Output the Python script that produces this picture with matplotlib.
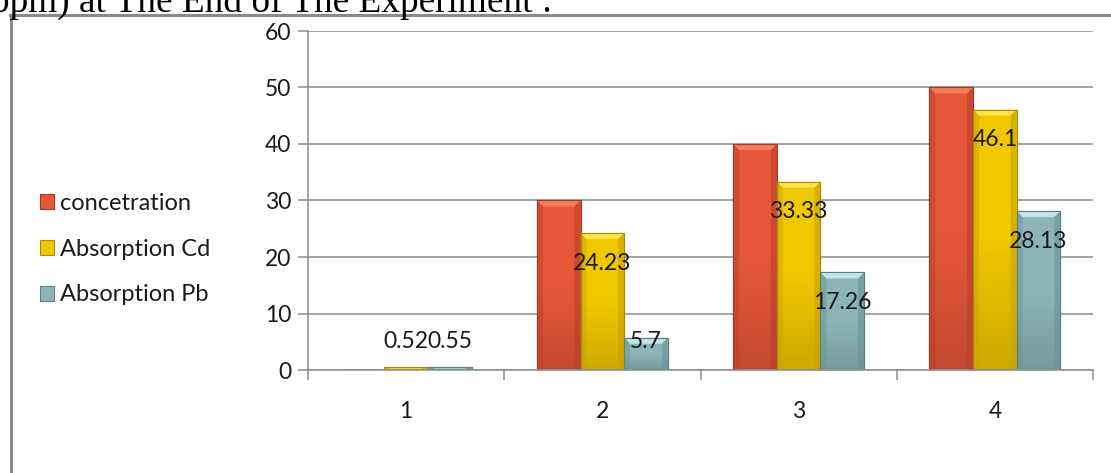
import numpy as np
import matplotlib
matplotlib.use("Agg")
import matplotlib.pyplot as plt
from matplotlib.colors import LinearSegmentedColormap, to_rgb
from matplotlib.patches import Polygon, Rectangle

plt.rcParams['font.family'] = ['Lato', 'DejaVu Sans']

categories = ["1", "2", "3", "4"]
series_names = ["concetration", "Absorption Cd", "Absorption Pb"]
concentration = [0, 30, 40, 50]
absorption_cd = [0.52, 24.23, 33.33, 46.1]
absorption_pb = [0.55, 5.7, 17.26, 28.13]
y_ticks = [0, 10, 20, 30, 40, 50, 60]

series_values = [concentration, absorption_cd, absorption_pb]
# face colour, light bevel, dark bevel, edge
palette = [
    ("#E6573A", "#F87C5E", "#B8402A", "#9E3A28"),
    ("#F0C800", "#FFE34A", "#C9A200", "#A88A10"),
    ("#8DB5B7", "#C2E6E8", "#6A9496", "#5E7E80"),
]
label_sets = [None, absorption_cd, absorption_pb]

FS = 16.5
LEG_FS = 17
W, H = 1111, 473
fig = plt.figure(figsize=(W / 100, H / 100), dpi=100)
ax = fig.add_axes([308 / W, (H - 370) / H, (1093 - 308) / W, (370 - 31) / H])

n = len(series_values)
bar_w = 1 / (n + 1.5)
x = np.arange(len(categories))

# grid and axes styling
ax.set_ylim(0, 60)
ax.set_xlim(-0.5, len(categories) - 0.5)
ax.set_yticks(y_ticks)
ax.yaxis.grid(True, color="#8c8c8c", linewidth=1.1)
ax.set_axisbelow(True)
for s in ["top", "right"]:
    ax.spines[s].set_visible(False)
for s in ["left", "bottom"]:
    ax.spines[s].set_color("#8c8c8c")
    ax.spines[s].set_linewidth(1.1)
ax.tick_params(axis="y", length=7, width=1.1, color="#8c8c8c", labelsize=FS,
               labelcolor="#1a1a1a", pad=5)
ax.set_xticks(np.arange(len(categories) + 1) - 0.5, minor=False)
ax.set_xticklabels([])
ax.set_xticks(x, minor=True)
ax.set_xticklabels(categories, minor=True)
ax.tick_params(axis="x", which="major", length=7, width=1.1, color="#8c8c8c")
ax.tick_params(axis="x", which="minor", length=0, labelsize=FS,
               labelcolor="#1a1a1a", pad=22)

px_x = (1093 - 308) / len(categories)  # pixels per category
px_y = (370 - 31) / 60                 # pixels per unit
bev_x = 6 / px_x
bev_y = 6 / px_y

legend_handles = []
for i, (vals, name) in enumerate(zip(series_values, series_names)):
    face, light, dark, edge = palette[i]
    offs = (i - (n - 1) / 2) * bar_w
    bars = ax.bar(x + offs, vals, width=bar_w, color=face, edgecolor=edge,
                  linewidth=0.8, label=name, zorder=2)
    cmap = LinearSegmentedColormap.from_list(
        "g%d" % i, [np.array(to_rgb(face)) * 0.85, to_rgb(face), to_rgb(face)])
    grad = np.linspace(0, 1, 64).reshape(-1, 1)
    for b in bars:
        h = b.get_height()
        if h <= 0:
            continue
        x0, x1 = b.get_x(), b.get_x() + b.get_width()
        im = ax.imshow(grad, extent=[x0, x1, 0, h], origin="lower",
                       cmap=cmap, aspect="auto", zorder=2.1)
        im.set_clip_path(b)
        by = min(bev_y, h / 2)
        bx = min(bev_x, b.get_width() / 2)
        top = Polygon([(x0, h), (x1, h), (x1 - bx, h - by), (x0 + bx, h - by)],
                      closed=True, facecolor=light, edgecolor="none", zorder=2.2)
        left = Polygon([(x0, h), (x0 + bx, h - by), (x0 + bx, 0), (x0, 0)],
                       closed=True, facecolor=dark, alpha=0.45,
                       edgecolor="none", zorder=2.2)
        right = Polygon([(x1, h), (x1 - bx, h - by), (x1 - bx, 0), (x1, 0)],
                        closed=True, facecolor=dark, alpha=0.6,
                        edgecolor="none", zorder=2.2)
        for p in (top, left, right):
            ax.add_patch(p)
        ax.add_patch(Rectangle((x0, 0), x1 - x0, h, facecolor="none",
                               edgecolor=edge, linewidth=0.8, zorder=2.3))
    legend_handles.append(bars)

    labels = label_sets[i]
    if labels is not None:
        for b, v in zip(bars, labels):
            ly = max(v - 30 / px_y, 28 / px_y)
            ax.text(b.get_x() + b.get_width() / 2, ly, f"{v:g}",
                    ha="center", va="center", fontsize=FS,
                    color="#1a1a1a", zorder=5)

ax.set_xlim(-0.5, len(categories) - 0.5)
ax.set_ylim(0, 60)

fs_px = LEG_FS * 100 / 72
leg = fig.legend(handles=legend_handles, labels=series_names,
                 loc="center left", bbox_to_anchor=(40 / W, 1 - 249 / H),
                 frameon=False, fontsize=LEG_FS, handlelength=14 / fs_px,
                 handleheight=14 / fs_px, handletextpad=6 / fs_px,
                 labelspacing=(48.5 - fs_px) / fs_px,
                 borderaxespad=0, borderpad=0)
for t in leg.get_texts():
    t.set_color("#1a1a1a")

# outer frame of the chart area
fig.add_artist(plt.Line2D([11 / W, 11 / W], [0, 1 - 15 / H],
                          transform=fig.transFigure, color="#8a8a8a", linewidth=2.2))
fig.add_artist(plt.Line2D([10 / W, 1], [1 - 15 / H, 1 - 15 / H],
                          transform=fig.transFigure, color="#8a8a8a", linewidth=2.2))

# caption line above the chart
fig.text(-9 / W, 1 - 12 / H, "ppm) at The End of The Experiment :",
         family=["Liberation Serif", "DejaVu Serif"], fontsize=26.8,
         color="black", ha="left", va="baseline")

fig.savefig("out.png", dpi=100)
